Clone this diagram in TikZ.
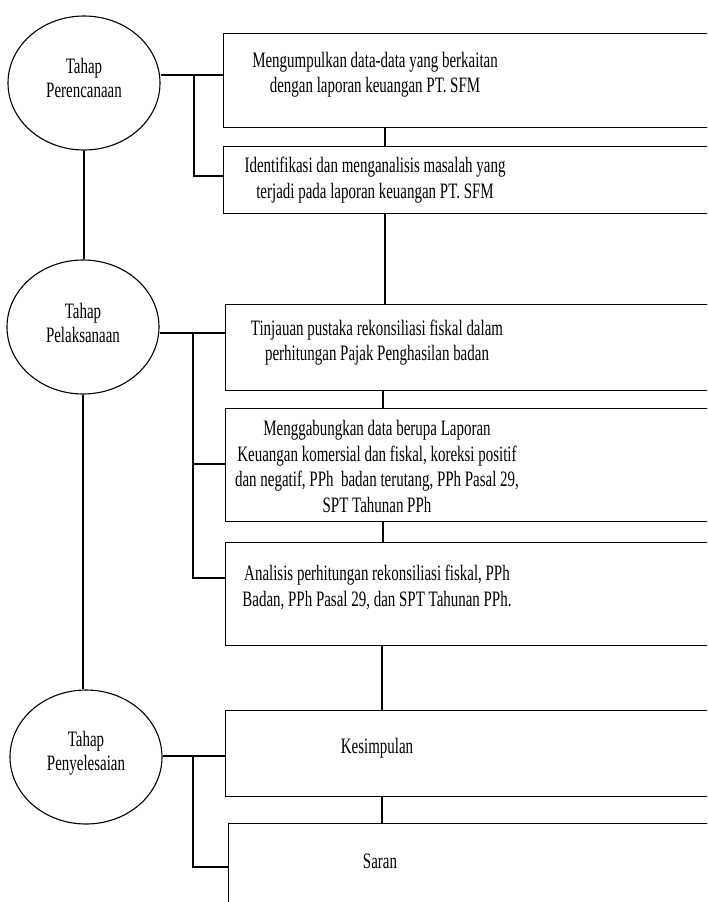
\documentclass[tikz,border=0pt]{standalone}
\usepackage{fontspec}
\setmainfont[FakeStretch=0.68]{Liberation Serif}
\usetikzlibrary{shapes.geometric}
\begin{document}
\begin{tikzpicture}[x=1pt,y=-1pt,line width=1.1pt,
  oval/.style={ellipse,draw,minimum width=152pt,minimum height=134pt,inner sep=0pt},
  ovaltxt/.style={align=center,inner sep=0pt,font=\fontsize{22}{23.5}\selectfont},
  box/.style={draw,rectangle,anchor=north west,inner sep=0pt,minimum width=540pt},
  txt/.style={align=center,inner sep=0pt,font=\fontsize{22}{25.5}\selectfont}]
\useasboundingbox (0,0) rectangle (707,902);
\clip (0,0) rectangle (707,902);
% phases
\node[oval] (e1) at (84,83) {};
\node[oval] (e2) at (83,327) {};
\node[oval] (e3) at (86,757) {};
\node[ovaltxt] (p1) at (84,78) {Tahap\\Perencanaan};
\node[ovaltxt] (p2) at (83,323) {Tahap\\Pelaksanaan};
\node[ovaltxt] (p3) at (86,753) {Tahap\\Penyelesaian};
% boxes
\node[box,minimum height=94pt] (b1) at (223,33) {};
\node[box,minimum height=67pt] (b2) at (223,146) {};
\node[box,minimum height=86pt] (b3) at (225,304) {};
\node[box,minimum height=113pt] (b4) at (225,408) {};
\node[box,minimum height=103pt] (b5) at (225,542) {};
\node[box,minimum height=86pt] (b6) at (225,710) {};
\node[box,minimum height=130pt] (b7) at (228,823) {};
% texts
\node[txt] (t1) at (375,74.5) {Mengumpulkan data-data yang berkaitan\\dengan laporan keuangan PT. SFM};
\node[txt] (t2) at (375,180) {Identifikasi dan menganalisis masalah yang\\terjadi pada laporan keuangan PT. SFM};
\node[txt] (t3) at (377,342.5) {Tinjauan pustaka rekonsiliasi fiskal dalam\\perhitungan Pajak Penghasilan badan};
\node[txt] (t4) at (377,466.5) {Menggabungkan data berupa Laporan\\Keuangan komersial dan fiskal, koreksi positif\\dan negatif, PPh\ \ badan terutang, PPh Pasal 29,\\SPT Tahunan PPh};
\node[txt] (t5) at (377,587.5) {Analisis perhitungan rekonsiliasi fiskal, PPh\\Badan, PPh Pasal 29, dan SPT Tahunan PPh.};
\node[txt] (t6) at (377,748) {Kesimpulan};
\node[txt] (t7) at (380,861) {Saran};
% phase links
\draw (e1.south) -- (e1.south |- e2.north);
\draw (e2.south) -- (e2.south |- e3.north);
% box links
\draw ([xshift=162pt]b1.south west) -- ([xshift=162pt]b2.north west);
\draw ([xshift=162pt]b2.south west) -- ([xshift=160pt]b3.north west);
\draw ([xshift=158pt]b3.south west) -- ([xshift=158pt]b4.north west);
\draw ([xshift=158pt]b4.south west) -- ([xshift=158pt]b5.north west);
\draw ([xshift=157pt]b5.south west) -- ([xshift=157pt]b6.north west);
\draw ([xshift=157pt]b6.south west) -- ([xshift=154pt]b7.north west);
% branches
\coordinate (j1) at (194,75);
\coordinate (k1) at (194,176);
\draw (e1.east |- j1) -- (b1.west |- j1);
\draw (j1) -- (k1) -- (b2.west |- k1);
\coordinate (j2) at (193,333);
\coordinate (k2a) at (193,464);
\coordinate (k2b) at (193,578);
\draw (e2.east |- j2) -- (b3.west |- j2);
\draw (j2) -- (k2b) -- (b5.west |- k2b);
\draw (k2a) -- (b4.west |- k2a);
\coordinate (j3) at (193,756);
\coordinate (k3) at (193,867);
\draw (e3.east |- j3) -- (b6.west |- j3);
\draw (j3) -- (k3) -- (b7.west |- k3);
\end{tikzpicture}
\end{document}
